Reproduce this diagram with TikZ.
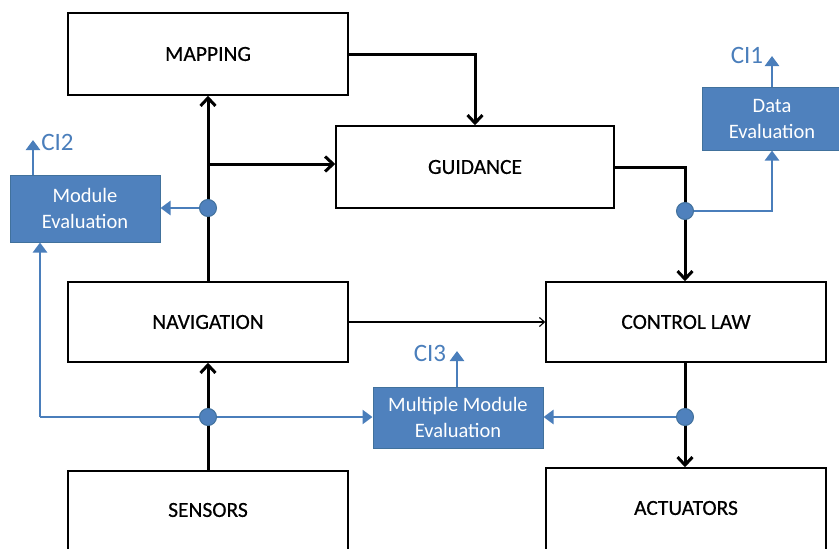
\documentclass[tikz,border=0pt]{standalone}
\usepackage{fontspec}
\setmainfont{Carlito}
\newfontfamily\heavyfont[FakeBold=0.5]{Carlito}
\usetikzlibrary{arrows.meta}
\definecolor{boxblue}{HTML}{4F81BD}
\definecolor{edgeblue}{HTML}{41719C}
\definecolor{lineblue}{HTML}{4A7EBB}
\begin{document}
\begin{tikzpicture}[x=1pt,y=-1pt,
  block/.style={draw=black, line width=1.5pt, fill=white, inner sep=0pt,
    font=\heavyfont\fontsize{21.5}{24}\selectfont},
  blocktext/.style={inner sep=0pt, font=\heavyfont\fontsize{21.5}{24}\selectfont},
  evalbox/.style={draw=edgeblue, line width=1pt, fill=boxblue, text=white,
    align=center, inner sep=0pt, font=\fontsize{20.5}{26}\selectfont},
  conn/.style={line width=3pt, -{Straight Barb[length=8pt,width=15pt]}},
  thinconn/.style={line width=1.1pt, -{Straight Barb[length=5pt,width=9pt]}},
  bline/.style={draw=lineblue, line width=2.7pt},
  bconn/.style={bline, -{Triangle[length=10pt,width=14pt]}},
  jdot/.style={circle, fill=boxblue, draw=edgeblue, line width=1pt,
    minimum size=17pt, inner sep=0pt},
  cilabel/.style={text=lineblue, inner sep=0pt, font=\fontsize{25}{28}\selectfont}]
\useasboundingbox (0,0) rectangle (839,549);
\clip (0,0) rectangle (839,549);

% blocks
\node[block, minimum width=280pt, minimum height=82pt] (map) at (208,54) {MAPPING};
\node[block, minimum width=278pt, minimum height=82pt] (gui) at (475,167) {GUIDANCE};
\node[block, minimum width=280pt, minimum height=80pt] (nav) at (208,322) {NAVIGATION};
\node[block, minimum width=280pt, minimum height=80pt] (cl) at (686,322) {CONTROL LAW};
\node[block, minimum width=280pt, minimum height=84pt] (sen) at (208,513) {};
\node[blocktext] (sent) at (208,510) {SENSORS};
\node[block, minimum width=280pt, minimum height=88pt] (act) at (686,512) {};
\node[blocktext] (actt) at (686,508) {ACTUATORS};

% evaluation boxes
\node[evalbox, minimum width=150pt, minimum height=67pt] (me) at (85,208.5) {Module\\Evaluation};
\node[evalbox, minimum width=140pt, minimum height=63pt] (de) at (772,118.5) {Data\\Evaluation};
\node[evalbox, minimum width=170pt, minimum height=61pt] (mme) at (458,417.5) {Multiple Module\\Evaluation};

% junction coordinates
\coordinate (dA) at (208,208);
\coordinate (dB) at (685,211);
\coordinate (dC) at (208,417);
\coordinate (dD) at (685,417);
\coordinate (brA) at (208,164);

% black connectors
\draw[conn] (nav.north) -- (map.south);
\draw[conn] (brA) -- (brA -| gui.west);
\draw[conn] (map.east) -| (gui.north);
\draw[conn] (gui.east) -| (dB) -- (dB |- cl.north);
\draw[thinconn] (nav.east) -- (cl.west);
\draw[conn] (sen.north) -- (nav.south);
\draw[conn] (cl.south -| dD) -- (dD |- act.north);

% blue connectors
\coordinate (ci2) at (33,140);
\coordinate (ci1) at (772,56);
\coordinate (ci3) at (457,351);
\coordinate (cC) at (40,417);
\draw[bconn] (dA) -- (dA -| me.east);
\draw[bconn] (ci2 |- me.north) -- (ci2);
\draw[bconn] (dB) -| (de.south);
\draw[bconn] (de.north) -- (ci1);
\draw[bconn] (ci3 |- mme.north) -- (ci3);
\draw[bconn] (dD) -- (dD -| mme.east);
\draw[bconn] (dC) -- (dC -| mme.west);
\draw[bline] (dC) -- (cC);
\draw[bconn] (cC) -- (cC |- me.south);

% labels
\node[cilabel] (ci2t) at (57.5,142) {CI2};
\node[cilabel] (ci1t) at (747,55) {CI1};
\node[cilabel] (ci3t) at (430,353) {CI3};

% dots
\node[jdot] (jA) at (dA) {};
\node[jdot] (jB) at (dB) {};
\node[jdot] (jC) at (dC) {};
\node[jdot] (jD) at (dD) {};
\end{tikzpicture}
\end{document}
